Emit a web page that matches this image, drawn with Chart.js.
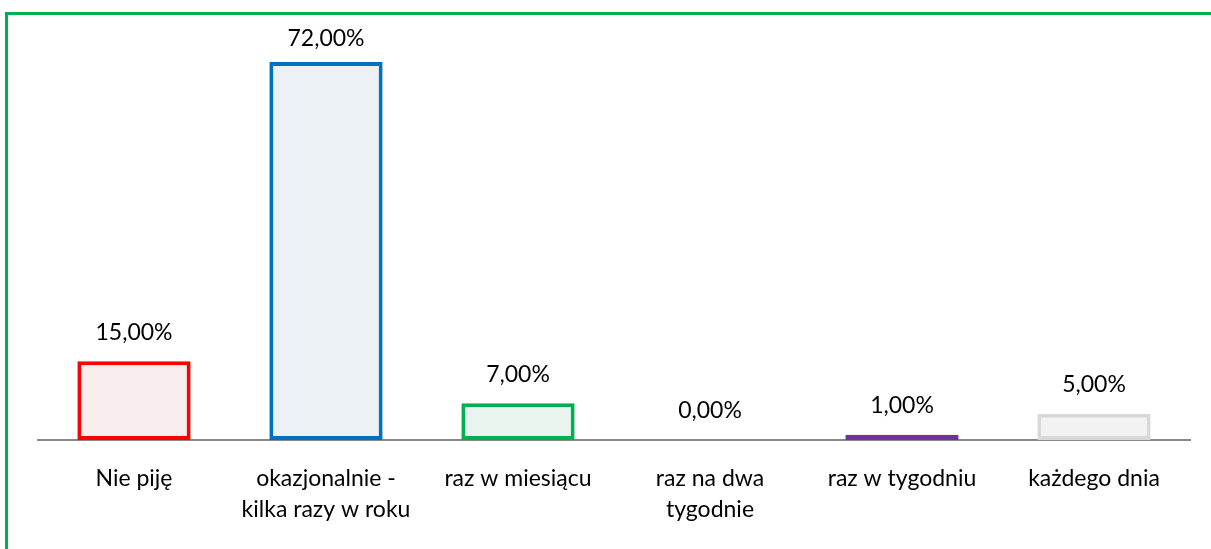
<!DOCTYPE html>
<html>
<head>
<meta charset="utf-8">
<script src="https://cdn.jsdelivr.net/npm/chart.js@4/dist/chart.umd.min.js"></script>
<style>
  html, body { margin: 0; padding: 0; background: #fff; }
  #wrap { position: relative; width: 1211px; height: 549px; }
</style>
</head>
<body>
<div id="wrap"><canvas id="c"></canvas></div>
<script>
// dane wykresu
const categories = [
  'Nie piję',
  ['okazjonalnie -', 'kilka razy w roku'],
  'raz w miesiącu',
  ['raz na dwa', 'tygodnie'],
  'raz w tygodniu',
  'każdego dnia'
];
const values = [15, 72, 7, 0, 1, 5];
const valueLabels = ['15,00%', '72,00%', '7,00%', '0,00%', '1,00%', '5,00%'];

const borderColors = ['#FF0000', '#0070C0', '#00B050', '#FFFFFF', '#7030A0', '#D9D9D9'];
const fillColors   = ['#F8ECEC', '#ECF1F6', '#EAF4EE', '#FFFFFF', '#7030A0', '#F2F2F2'];

const FONT = 'Lato, "Liberation Sans", sans-serif';

// zielona ramka (lewa i górna krawędź)
const framePlugin = {
  id: 'frame',
  beforeDraw(chart) {
    const ctx = chart.ctx;
    ctx.save();
    ctx.fillStyle = '#00B050';
    ctx.fillRect(5, 12, 3, chart.height - 12);
    ctx.fillRect(5, 12, chart.width - 5, 3);
    ctx.restore();
  }
};

// etykiety wartości nad słupkami
const valueLabelPlugin = {
  id: 'valueLabels',
  afterDatasetsDraw(chart) {
    const ctx = chart.ctx;
    const meta = chart.getDatasetMeta(0);
    ctx.save();
    ctx.font = '23px ' + FONT;
    ctx.fillStyle = '#000';
    ctx.textAlign = 'center';
    ctx.textBaseline = 'middle';
    meta.data.forEach((bar, i) => {
      const off = values[i] > 50 ? 23 : 29;
      ctx.fillText(valueLabels[i], bar.x, bar.y - off);
    });
    ctx.restore();
  }
};

new Chart(document.getElementById('c'), {
  type: 'bar',
  data: {
    labels: categories,
    datasets: [{
      data: values,
      backgroundColor: fillColors,
      borderColor: borderColors,
      borderWidth: 4,
      borderSkipped: false,
      categoryPercentage: 0.59,
      barPercentage: 1.0
    }]
  },
  plugins: [framePlugin, valueLabelPlugin],
  options: {
    responsive: true,
    maintainAspectRatio: false,
    animation: false,
    layout: { padding: { left: 38, right: 21, top: 20, bottom: 0 } },
    plugins: { legend: { display: false }, tooltip: { enabled: false } },
    scales: {
      x: {
        afterFit(scale) { scale.height = 109; },
        grid: { display: false, drawTicks: false },
        border: { display: true, color: '#898989', width: 2 },
        ticks: {
          color: '#000',
          padding: 23,
          maxRotation: 0,
          autoSkip: false,
          font: { family: FONT, size: 23, lineHeight: 1.35 }
        }
      },
      y: {
        display: false,
        min: 0,
        max: 80
      }
    }
  }
});
</script>
</body>
</html>
